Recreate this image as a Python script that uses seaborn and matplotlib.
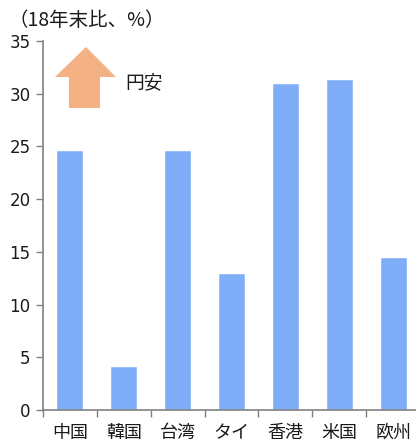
import matplotlib
matplotlib.use("Agg")
import matplotlib.pyplot as plt
from matplotlib.patches import Polygon
import seaborn as sns
import pandas as pd

regions = ["中国", "韓国", "台湾", "タイ", "香港", "米国", "欧州"]
change_pct = [24.7, 4.2, 24.7, 13.0, 31.0, 31.4, 14.5]
y_ticks = [0, 5, 10, 15, 20, 25, 30, 35]

sns.set_style("white")
plt.rcParams["font.family"] = ["DejaVu Sans", "Noto Sans CJK JP"]

df = pd.DataFrame({"region": regions, "pct": change_pct})

W, H = 416, 447
fig = plt.figure(figsize=(W / 100, H / 100), dpi=100)
ax = fig.add_axes([43 / W, 37 / H, 377 / W, 369 / H])

sns.barplot(data=df, x="region", y="pct", color="#80ADF8", width=0.5,
            saturation=1, ax=ax)

ax.set_ylim(0, 35)
ax.set_xlim(-0.5, len(regions) - 0.5)
ax.set_yticks(y_ticks)
ax.set_yticklabels([str(t) for t in y_ticks], fontsize=12, color="#1a1a1a")
ax.set_xlabel("")
ax.set_ylabel("")

# category boundaries carry the x tick marks
ax.set_xticks([i - 0.5 for i in range(len(regions) + 1)], minor=False)
ax.set_xticklabels([])
ax.set_xticks(range(len(regions)), minor=True)
ax.set_xticklabels(regions, minor=True, fontsize=13, family="Noto Sans CJK JP",
                   color="#1a1a1a")
ax.tick_params(axis="x", which="minor", length=0, pad=10)
ax.tick_params(axis="x", which="major", length=5, width=1, color="#808080",
               direction="out", bottom=True)
ax.tick_params(axis="y", length=5, width=1, color="#808080", direction="out",
               left=True, pad=4)

for side in ["top", "right"]:
    ax.spines[side].set_visible(False)
for side in ["left", "bottom"]:
    ax.spines[side].set_color("#808080")
    ax.spines[side].set_linewidth(1.2)

fig.text(9 / W, 1 - 20 / H, "（18年末比、%）", fontsize=14,
         family="Noto Sans CJK JP", va="center", ha="left", color="#1a1a1a")

# upward block arrow marking yen weakening
pts = [(86, 47), (116, 77), (100, 77), (100, 108), (69, 108), (69, 77), (55, 77)]
arrow = Polygon([(x / W, 1 - y / H) for x, y in pts], closed=True,
                transform=fig.transFigure, facecolor="#F4B183", edgecolor="none")
fig.patches.append(arrow)
fig.text(125 / W, 1 - 83 / H, "円安", fontsize=13.5, family="Noto Sans CJK JP",
         va="center", ha="left", color="#1a1a1a")

fig.savefig("out.png", dpi=100)
